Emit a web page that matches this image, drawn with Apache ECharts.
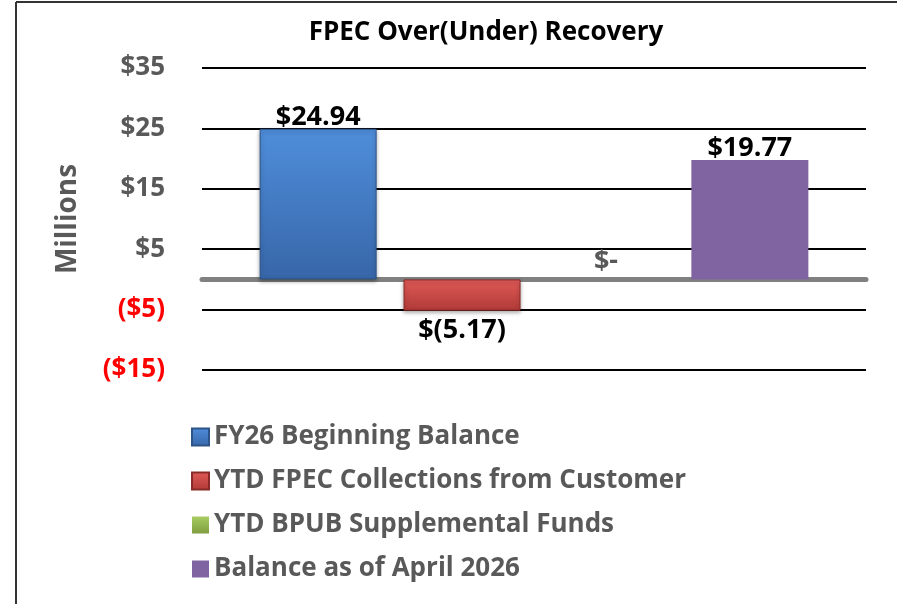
<!DOCTYPE html>
<html>
<head>
<meta charset="utf-8">
<script src="https://cdn.jsdelivr.net/npm/echarts@6/dist/echarts.min.js"></script>
<style>
  html, body { margin: 0; padding: 0; background: #fff; }
  #main { width: 897px; height: 604px; }
</style>
</head>
<body>
<div id="main"></div>
<script>
// FPEC over(under) recovery, millions
var seriesNames = ['FY26 Beginning Balance', 'YTD FPEC Collections from Customer', 'YTD BPUB Supplemental Funds', 'Balance as of April 2026'];
var seriesValues = [24.94, -5.17, 0, 19.77];
var yTicks = [-15, -5, 5, 15, 25, 35];

var FONT = '"Open Sans"';

function money(v) {
    if (v === 0) return '$-';
    if (v < 0) return '$(' + Math.abs(v).toFixed(2) + ')';
    return '$' + v.toFixed(2);
}

function grad(top, bottom) {
    return new echarts.graphic.LinearGradient(0, 0, 0, 1, [
        { offset: 0, color: top },
        { offset: 1, color: bottom }
    ]);
}

var fills = [
    grad('#4f8edb', '#3766a8'),
    grad('#e05a57', '#b03a37'),
    grad('#a8cc62', '#7f9e3f'),
    '#8064a2'
];
var borders = ['#2c5486', '#8a2a28', '#647c30', '#4f3d66'];

var myChart = echarts.init(document.getElementById('main'));

var series = seriesNames.map(function (name, i) {
    var v = seriesValues[i];
    var flat = (i === 3 || v === 0);
    return {
        name: name,
        type: 'bar',
        barWidth: 117,
        barGap: '23%',
        data: [v],
        itemStyle: {
            color: fills[i],
            borderColor: borders[i],
            borderWidth: flat ? 0 : 1,
            shadowColor: flat ? 'transparent' : 'rgba(0,0,0,0.35)',
            shadowBlur: flat ? 0 : 4,
            shadowOffsetY: 2
        },
        label: {
            show: true,
            position: v < 0 ? 'bottom' : 'top',
            distance: v === 0 ? 5 : (v < 0 ? 6 : -2),
            formatter: function (p) { return money(p.value); },
            fontFamily: FONT,
            fontWeight: 'bold',
            fontSize: 27,
            color: v === 0 ? '#595959' : '#000'
        }
    };
});

var option = {
    animation: false,
    title: {
        text: 'FPEC Over(Under) Recovery',
        left: 481,
        top: 15,
        textAlign: 'center',
        textStyle: { fontFamily: FONT, fontWeight: 'bold', fontSize: 26, color: '#000' }
    },
    legend: {
        orient: 'vertical',
        left: 186,
        top: 419,
        itemWidth: 17,
        itemHeight: 17,
        itemGap: 18,
        icon: 'rect',
        data: seriesNames,
        textStyle: { fontFamily: FONT, fontWeight: 'bold', fontSize: 26, color: '#595959' }
    },
    grid: { left: 202, right: 31, top: 68, bottom: 234 },
    xAxis: {
        type: 'category',
        data: [''],
        axisTick: { show: false },
        axisLabel: { show: false },
        axisLine: { onZero: true, lineStyle: { color: '#808080', width: 5 } }
    },
    yAxis: {
        type: 'value',
        min: yTicks[0],
        max: yTicks[yTicks.length - 1],
        interval: 10,
        name: 'Millions',
        nameLocation: 'middle',
        nameGap: 120,
        nameRotate: 90,
        nameTextStyle: { fontFamily: FONT, fontWeight: 'bold', fontSize: 28, color: '#595959' },
        axisLine: { show: false },
        axisTick: { show: false },
        splitLine: { lineStyle: { color: '#000', width: 2 } },
        axisLabel: {
            margin: 37,
            fontFamily: FONT,
            fontWeight: 'bold',
            fontSize: 26,
            color: function (v) { return v < 0 ? '#ff0000' : '#595959'; },
            formatter: function (v) { return v < 0 ? '($' + Math.abs(v) + ')' : '$' + v; }
        }
    },
    graphic: [
        { type: 'line', shape: { x1: 16, y1: 2, x2: 16, y2: 604 }, style: { stroke: '#333', lineWidth: 2 } },
        { type: 'line', shape: { x1: 16, y1: 2, x2: 897, y2: 2 }, style: { stroke: '#333', lineWidth: 2 } }
    ],
    series: series
};

myChart.setOption(option);
window.addEventListener('resize', function () {
    myChart.resize();
});
</script>
</body>
</html>
